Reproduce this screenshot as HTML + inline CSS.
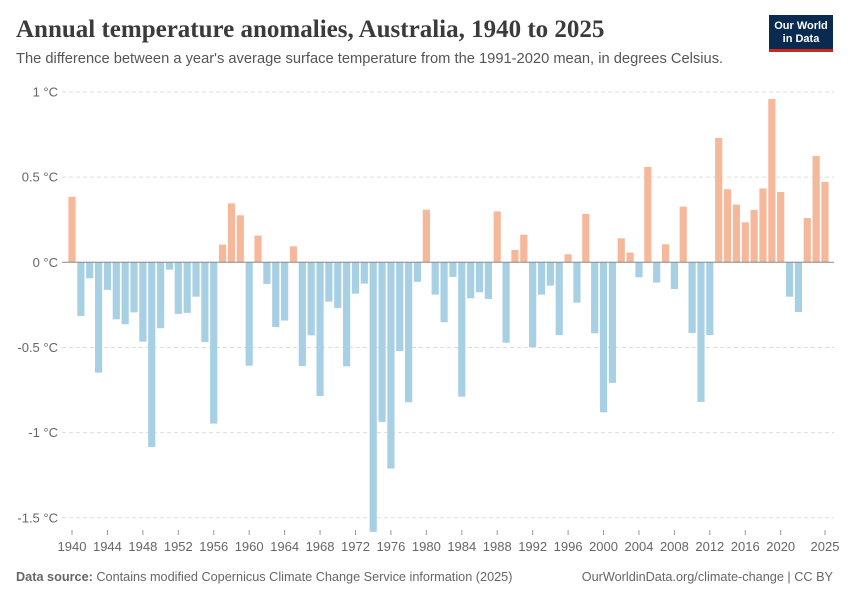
<!DOCTYPE html>
<html><head><meta charset="utf-8"><style>
body{margin:0;background:#fff;}
#wrap{position:relative;width:850px;height:600px;overflow:hidden;font-family:"Liberation Sans",sans-serif;}
.title{position:absolute;left:16px;top:16px;font-family:"Liberation Serif",serif;font-size:25px;font-weight:bold;color:#3b3b3b;letter-spacing:0px;}
.sub{position:absolute;left:16px;top:51px;font-size:14.7px;color:#555;}
.logo{position:absolute;left:769px;top:15px;width:64px;height:37px;background:#0a2a4f;border-bottom:3px solid #ce261e;box-sizing:border-box;color:#fff;font-size:11px;line-height:13px;text-align:center;padding-top:5px;font-weight:bold;}
.foot{position:absolute;top:570px;font-size:12.7px;color:#666;}
</style></head><body>
<div id="wrap">
<div class="title">Annual temperature anomalies, Australia, 1940 to 2025</div>
<div class="sub">The difference between a year's average surface temperature from the 1991-2020 mean, in degrees Celsius.</div>
<div class="logo">Our World<br>in Data</div>
<svg id="chart" width="850" height="600" style="position:absolute;left:0;top:0"></svg>
<div class="foot" style="left:16px"><b>Data source:</b> Contains modified Copernicus Climate Change Service information (2025)</div>
<div class="foot" style="right:17px">OurWorldinData.org/climate-change | CC BY</div>
</div>
<script>
const startYear = 1940;
const values = [0.385,-0.315,-0.094,-0.648,-0.162,-0.335,-0.364,-0.294,-0.466,-1.084,
-0.387,-0.043,-0.303,-0.297,-0.202,-0.468,-0.947,0.104,0.346,0.276,
-0.607,0.157,-0.127,-0.380,-0.342,0.094,-0.609,-0.429,-0.785,-0.231,
-0.268,-0.611,-0.184,-0.125,-1.583,-0.937,-1.211,-0.521,-0.822,-0.115,
0.309,-0.190,-0.352,-0.086,-0.789,-0.211,-0.176,-0.215,0.299,-0.472,
0.072,0.162,-0.499,-0.190,-0.137,-0.427,0.047,-0.237,0.284,-0.417,
-0.881,-0.708,0.141,0.057,-0.088,0.560,-0.119,0.106,-0.157,0.327,
-0.415,-0.820,-0.427,0.730,0.429,0.339,0.235,0.307,0.434,0.959,
0.413,-0.202,-0.292,0.260,0.624,0.472];
const yTicks = [1,0.5,0,-0.5,-1,-1.5];
const yTickLabels = ["1 °C","0.5 °C","0 °C","-0.5 °C","-1 °C","-1.5 °C"];
const xTicks = [1940,1944,1948,1952,1956,1960,1964,1968,1972,1976,1980,1984,1988,1992,1996,2000,2004,2008,2012,2016,2020,2025];

const NS="http://www.w3.org/2000/svg";
const svg=document.getElementById('chart');
const x0=72, x1=825, y0=262.3, ppd=170.3;
const endYear=startYear+values.length-1;
function xs(year){return x0+(year-startYear)*(x1-x0)/(endYear-startYear);}
function ys(v){return y0-v*ppd;}
function mk(tag,attrs){const e=document.createElementNS(NS,tag);for(const k in attrs)e.setAttribute(k,attrs[k]);svg.appendChild(e);return e;}

yTicks.forEach((t,i)=>{
  if(t!==0){
    const g=mk('line',{x1:62,x2:834,y1:ys(t),y2:ys(t),stroke:'#ddd','stroke-dasharray':'4,3'});
    
    
  }
  const tx=mk('text',{x:58,y:ys(t)+4.5,'text-anchor':'end','font-size':'13','fill':'#666','font-family':'Liberation Sans, sans-serif'});
  tx.textContent=yTickLabels[i];
  
  
});
values.forEach((v,i)=>{
  const yr=startYear+i;
  const top=v>=0?ys(v):y0, h=Math.abs(v)*ppd;
  const r=mk('rect',{x:xs(yr)-3.6,y:top,width:7.2,height:h,fill:v>=0?'#f6b89a':'#a8d0e4'});
  
  
});
const zl=mk('line',{x1:62,x2:834,y1:y0,y2:y0,stroke:'#888','stroke-width':1});


xTicks.forEach(yr=>{
  const tk=mk('line',{x1:xs(yr),x2:xs(yr),y1:530,y2:535,stroke:'#999'});
  
  
  const tx=mk('text',{x:xs(yr),y:551,'text-anchor':'middle','font-size':'13','fill':'#666','font-family':'Liberation Sans, sans-serif'});
  tx.textContent=yr;
  
  
});
</script>
</body></html>
